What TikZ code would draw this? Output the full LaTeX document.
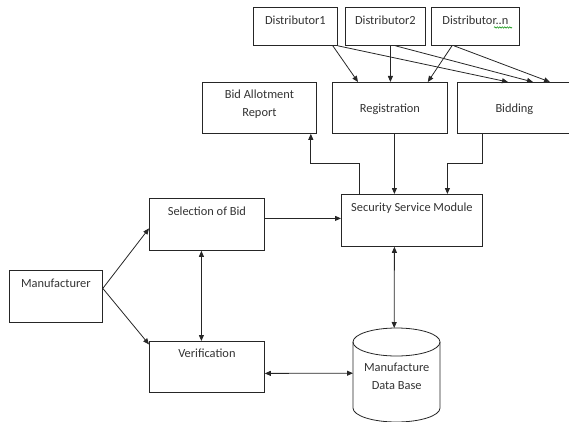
\documentclass[tikz,border=0pt]{standalone}
\usepackage{fontspec}
\setmainfont{Carlito}
\usetikzlibrary{arrows.meta,calc,decorations.pathmorphing}
\begin{document}
\begin{tikzpicture}[x=1pt,y=-1pt,
  font=\fontsize{12.4}{18}\selectfont,
  tb/.style n args={3}{draw=black!85, line width=0.8pt, anchor=north west, inner sep=0pt,
    text=black!80, minimum width=#1, text height=#2, text depth=#3},
  ln/.style={draw=black!85, line width=0.8pt},
  arr/.style={ln, -{Triangle[length=6pt,width=5pt]}},
  darr/.style={ln, {Triangle[length=6pt,width=5pt]}-{Triangle[length=6pt,width=5pt]}}
]
\useasboundingbox (0,0) rectangle (569,422);
% top row
\node[tb={84}{17}{21}] (d1) at (253,7) {Distributor1};
\node[tb={80}{17}{21}] (d2) at (345,7) {Distributor2};
\node[tb={88}{17}{21}] (dn) at (431,7) {Distributor..n};
\draw[green!55!black, line width=0.5pt, decorate,
  decoration={snake, amplitude=0.7pt, segment length=2.5pt}] (494,27.5) -- (512,27.5);
% second row
\node[tb={114}{16}{35}] (bar) at (202,82) {\begin{tabular}[t]{@{}c@{}}Bid Allotment\\Report\end{tabular}};
\node[tb={115}{30}{21}] (reg) at (332,82) {Registration};
\node[tb={114}{30}{21}] (bid) at (457,82) {Bidding};
% middle
\node[tb={141}{17}{35}] (ssm) at (341,194) {Security Service Module};
\node[tb={115}{17}{35}] (sel) at (149,198) {Selection of Bid};
\node[tb={93}{17}{35}] (man) at (9,270) {Manufacturer};
\node[tb={115}{16}{35}] (ver) at (149,341) {Verification};
% database
\node[anchor=north west, inner sep=0pt, minimum width=87, text=black!80,
  text height=43, text depth=53] (db) at (353,328)
  {\begin{tabular}[t]{@{}c@{}}Manufacture\\Data Base\end{tabular}};
\draw[ln] (396.5,342) ellipse [x radius=43.5, y radius=14];
\draw[ln] (353,342) -- (353,408)
  .. controls (353,415.7) and (372.5,422) .. (396.5,422)
  .. controls (420.5,422) and (440,415.7) .. (440,408) -- (440,342);
% distributors to registration / bidding
\draw[arr] ($(d1.south east)+(-5,0)$) -- ($(reg.north west)+(26,0)$);
\draw[arr] (d1.south east) -- ($(bid.north west)+(51,0)$);
\draw[arr] ($(d2.south)+(5,0)$) -- ($(reg.north)+(0.5,0)$);
\draw[arr] ($(d2.south)+(10,0)$) -- ($(bid.north west)+(76,0)$);
\draw[arr] ($(dn.south west)+(21,0)$) -- ($(reg.north east)+(-20,0)$);
\draw[arr] ($(dn.south west)+(23,0)$) -- ($(bid.north west)+(93,0)$);
% to / from security service module
\draw[arr] ($(reg.south)+(4.5,0)$) -- ($(ssm.north)+(-17.5,0)$);
\draw[arr] ($(bid.south west)+(25,0)$) |- ($(ssm.north)+(35.5,-31)$) -- ($(ssm.north)+(35.5,0)$);
\draw[arr] ($(ssm.north west)+(18,0)$) |- ($(bar.south east)+(-6,30)$) -- ($(bar.south east)+(-6,0)$);
\draw[arr] ($(sel.east)+(0,-6)$) -- ($(ssm.west)+(0,-2)$);
% manufacturer side
\draw[arr] ($(man.east)+(0,-8)$) -- ($(sel.west)+(0,4)$);
\draw[arr] ($(man.east)+(0,-8)$) -- ($(ver.west)+(0,-22.5)$);
\draw[darr] ($(sel.south)+(-5.5,0)$) -- ($(ver.north)+(-5.5,0)$);
\draw[darr] ($(ver.east)+(0,6.5)$) -- ($(db.west)+(0,-3)$);
\draw[darr] ($(ssm.south)+(-17.5,0)$) -- ($(db.north)+(-2.5,0)$);
\end{tikzpicture}
\end{document}
